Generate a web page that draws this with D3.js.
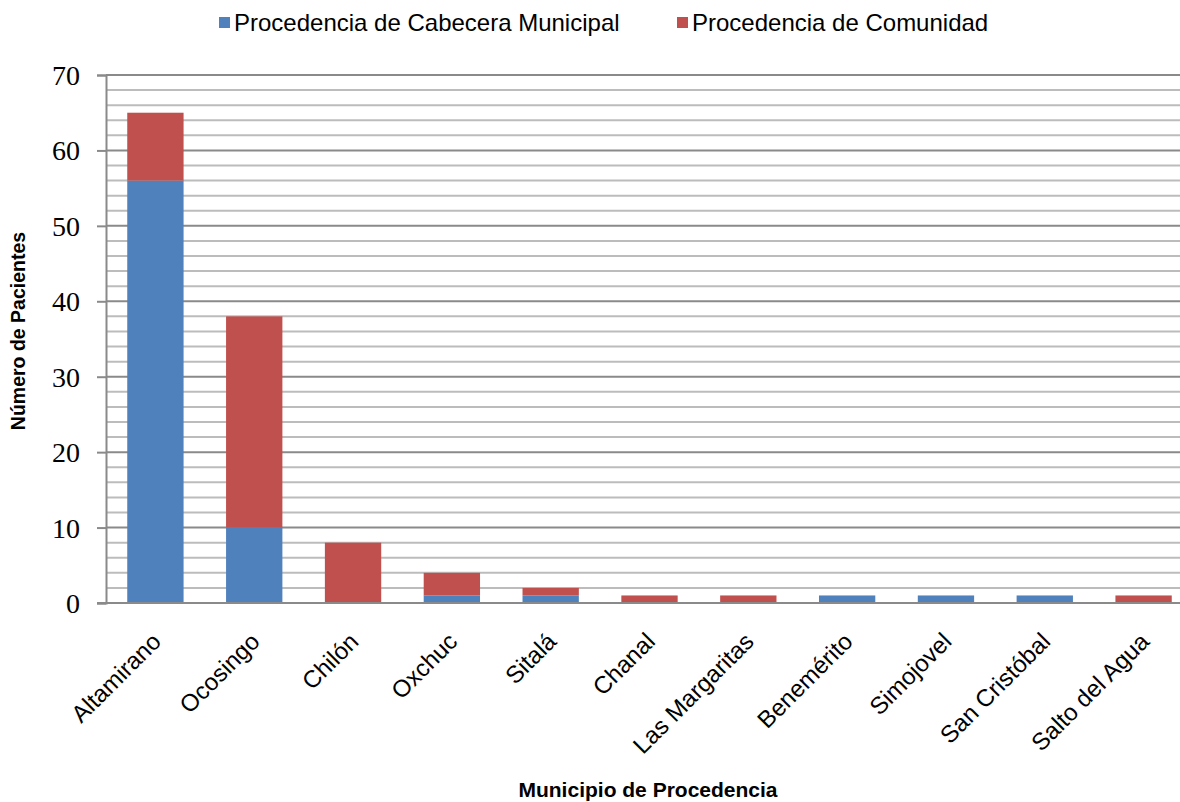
<!DOCTYPE html>
<html>
<head>
<meta charset="utf-8">
<script src="https://cdn.jsdelivr.net/npm/d3@7"></script>
<style>
  html, body { margin: 0; padding: 0; background: #fff; }
  svg { display: block; }
</style>
</head>
<body>
<script>
// Patients by municipality of origin, split by origin type
const municipios = ["Altamirano", "Ocosingo", "Chilón", "Oxchuc", "Sitalá", "Chanal",
  "Las Margaritas", "Benemérito", "Simojovel", "San Cristóbal", "Salto del Agua"];
const cabecera  = [56, 10, 0, 1, 1, 0, 0, 1, 1, 1, 0];
const comunidad = [9, 28, 8, 3, 1, 1, 1, 0, 0, 0, 1];
const seriesNames = ["Procedencia de Cabecera Municipal", "Procedencia de Comunidad"];
const seriesColors = ["#4F81BD", "#C0504D"];
const yTicks = [0, 10, 20, 30, 40, 50, 60, 70];

const W = 1180, H = 802;
const plot = { left: 106, right: 1193, top: 75, bottom: 603 };

const svg = d3.select("body").append("svg")
  .attr("width", W).attr("height", H);

const x = d3.scaleBand().domain(municipios)
  .range([plot.left, plot.right]).paddingInner(0.43).paddingOuter(0.215);
const y = d3.scaleLinear().domain([0, 70]).range([plot.bottom, plot.top]);

// minor gridlines every 2 patients
const minor = d3.range(2, 70, 2).filter(v => v % 10 !== 0);
svg.append("g").selectAll("line").data(minor).join("line")
  .attr("x1", plot.left).attr("x2", W)
  .attr("y1", d => y(d)).attr("y2", d => y(d))
  .attr("stroke", "#BCBCBC").attr("stroke-width", 2);

// major gridlines
svg.append("g").selectAll("line").data(yTicks.filter(v => v > 0)).join("line")
  .attr("x1", plot.left).attr("x2", W)
  .attr("y1", d => y(d)).attr("y2", d => y(d))
  .attr("stroke", "#8A8A8A").attr("stroke-width", 2);

// stacked bars
const rows = municipios.map((m, i) => ({ m, cab: cabecera[i], com: comunidad[i] }));
const stack = d3.stack().keys(["cab", "com"])(rows);
svg.append("g").selectAll("g").data(stack).join("g")
  .attr("fill", (d, i) => seriesColors[i])
  .selectAll("rect").data(d => d.filter(p => p[1] - p[0] > 0)).join("rect")
  .attr("x", d => x(d.data.m))
  .attr("width", x.bandwidth())
  .attr("y", d => y(d[1]))
  .attr("height", d => y(d[0]) - y(d[1]));

// y axis
const yAxis = d3.axisLeft(y).tickValues(yTicks).tickSize(9).tickPadding(17);
const gy = svg.append("g").attr("transform", `translate(${plot.left},0)`).call(yAxis);
gy.select(".domain").attr("stroke", "#8A8A8A").attr("stroke-width", 2);
gy.selectAll(".tick line").attr("stroke", "#8A8A8A").attr("stroke-width", 2);
gy.selectAll(".tick text")
  .attr("font-family", "'Liberation Serif', 'Times New Roman', serif")
  .attr("font-size", 28).attr("fill", "#000").attr("dy", "0.34em");

// x axis baseline
svg.append("line")
  .attr("x1", plot.left - 9).attr("x2", W)
  .attr("y1", y(0)).attr("y2", y(0))
  .attr("stroke", "#8A8A8A").attr("stroke-width", 2);

// category labels, rotated
svg.append("g").selectAll("text").data(municipios).join("text")
  .attr("transform", d => `translate(${x(d) + x.bandwidth() / 2 + 7},${plot.bottom + 40}) rotate(-45)`)
  .attr("text-anchor", "end")
  .attr("font-family", "'Liberation Sans', Arial, sans-serif")
  .attr("font-size", 24).attr("fill", "#000")
  .text(d => d);

// axis titles
svg.append("text")
  .attr("transform", `translate(25,331) rotate(-90)`)
  .attr("text-anchor", "middle")
  .attr("font-family", "'Liberation Sans', Arial, sans-serif")
  .attr("font-weight", "bold").attr("font-size", 19.5)
  .text("Número de Pacientes");

svg.append("text")
  .attr("x", 648).attr("y", 797)
  .attr("text-anchor", "middle")
  .attr("font-family", "'Liberation Sans', Arial, sans-serif")
  .attr("font-weight", "bold").attr("font-size", 21)
  .text("Municipio de Procedencia");

// legend
const legendX = [219, 677];
const lg = svg.append("g").selectAll("g").data(seriesNames).join("g")
  .attr("transform", (d, i) => `translate(${legendX[i]},17)`);
lg.append("rect").attr("width", 11).attr("height", 11)
  .attr("fill", (d, i) => seriesColors[i]);
lg.append("text").attr("x", 15).attr("y", 6).attr("dy", "0.35em")
  .attr("font-family", "'Liberation Sans', Arial, sans-serif")
  .attr("font-size", 24).attr("fill", "#000")
  .text(d => d);
</script>
</body>
</html>
